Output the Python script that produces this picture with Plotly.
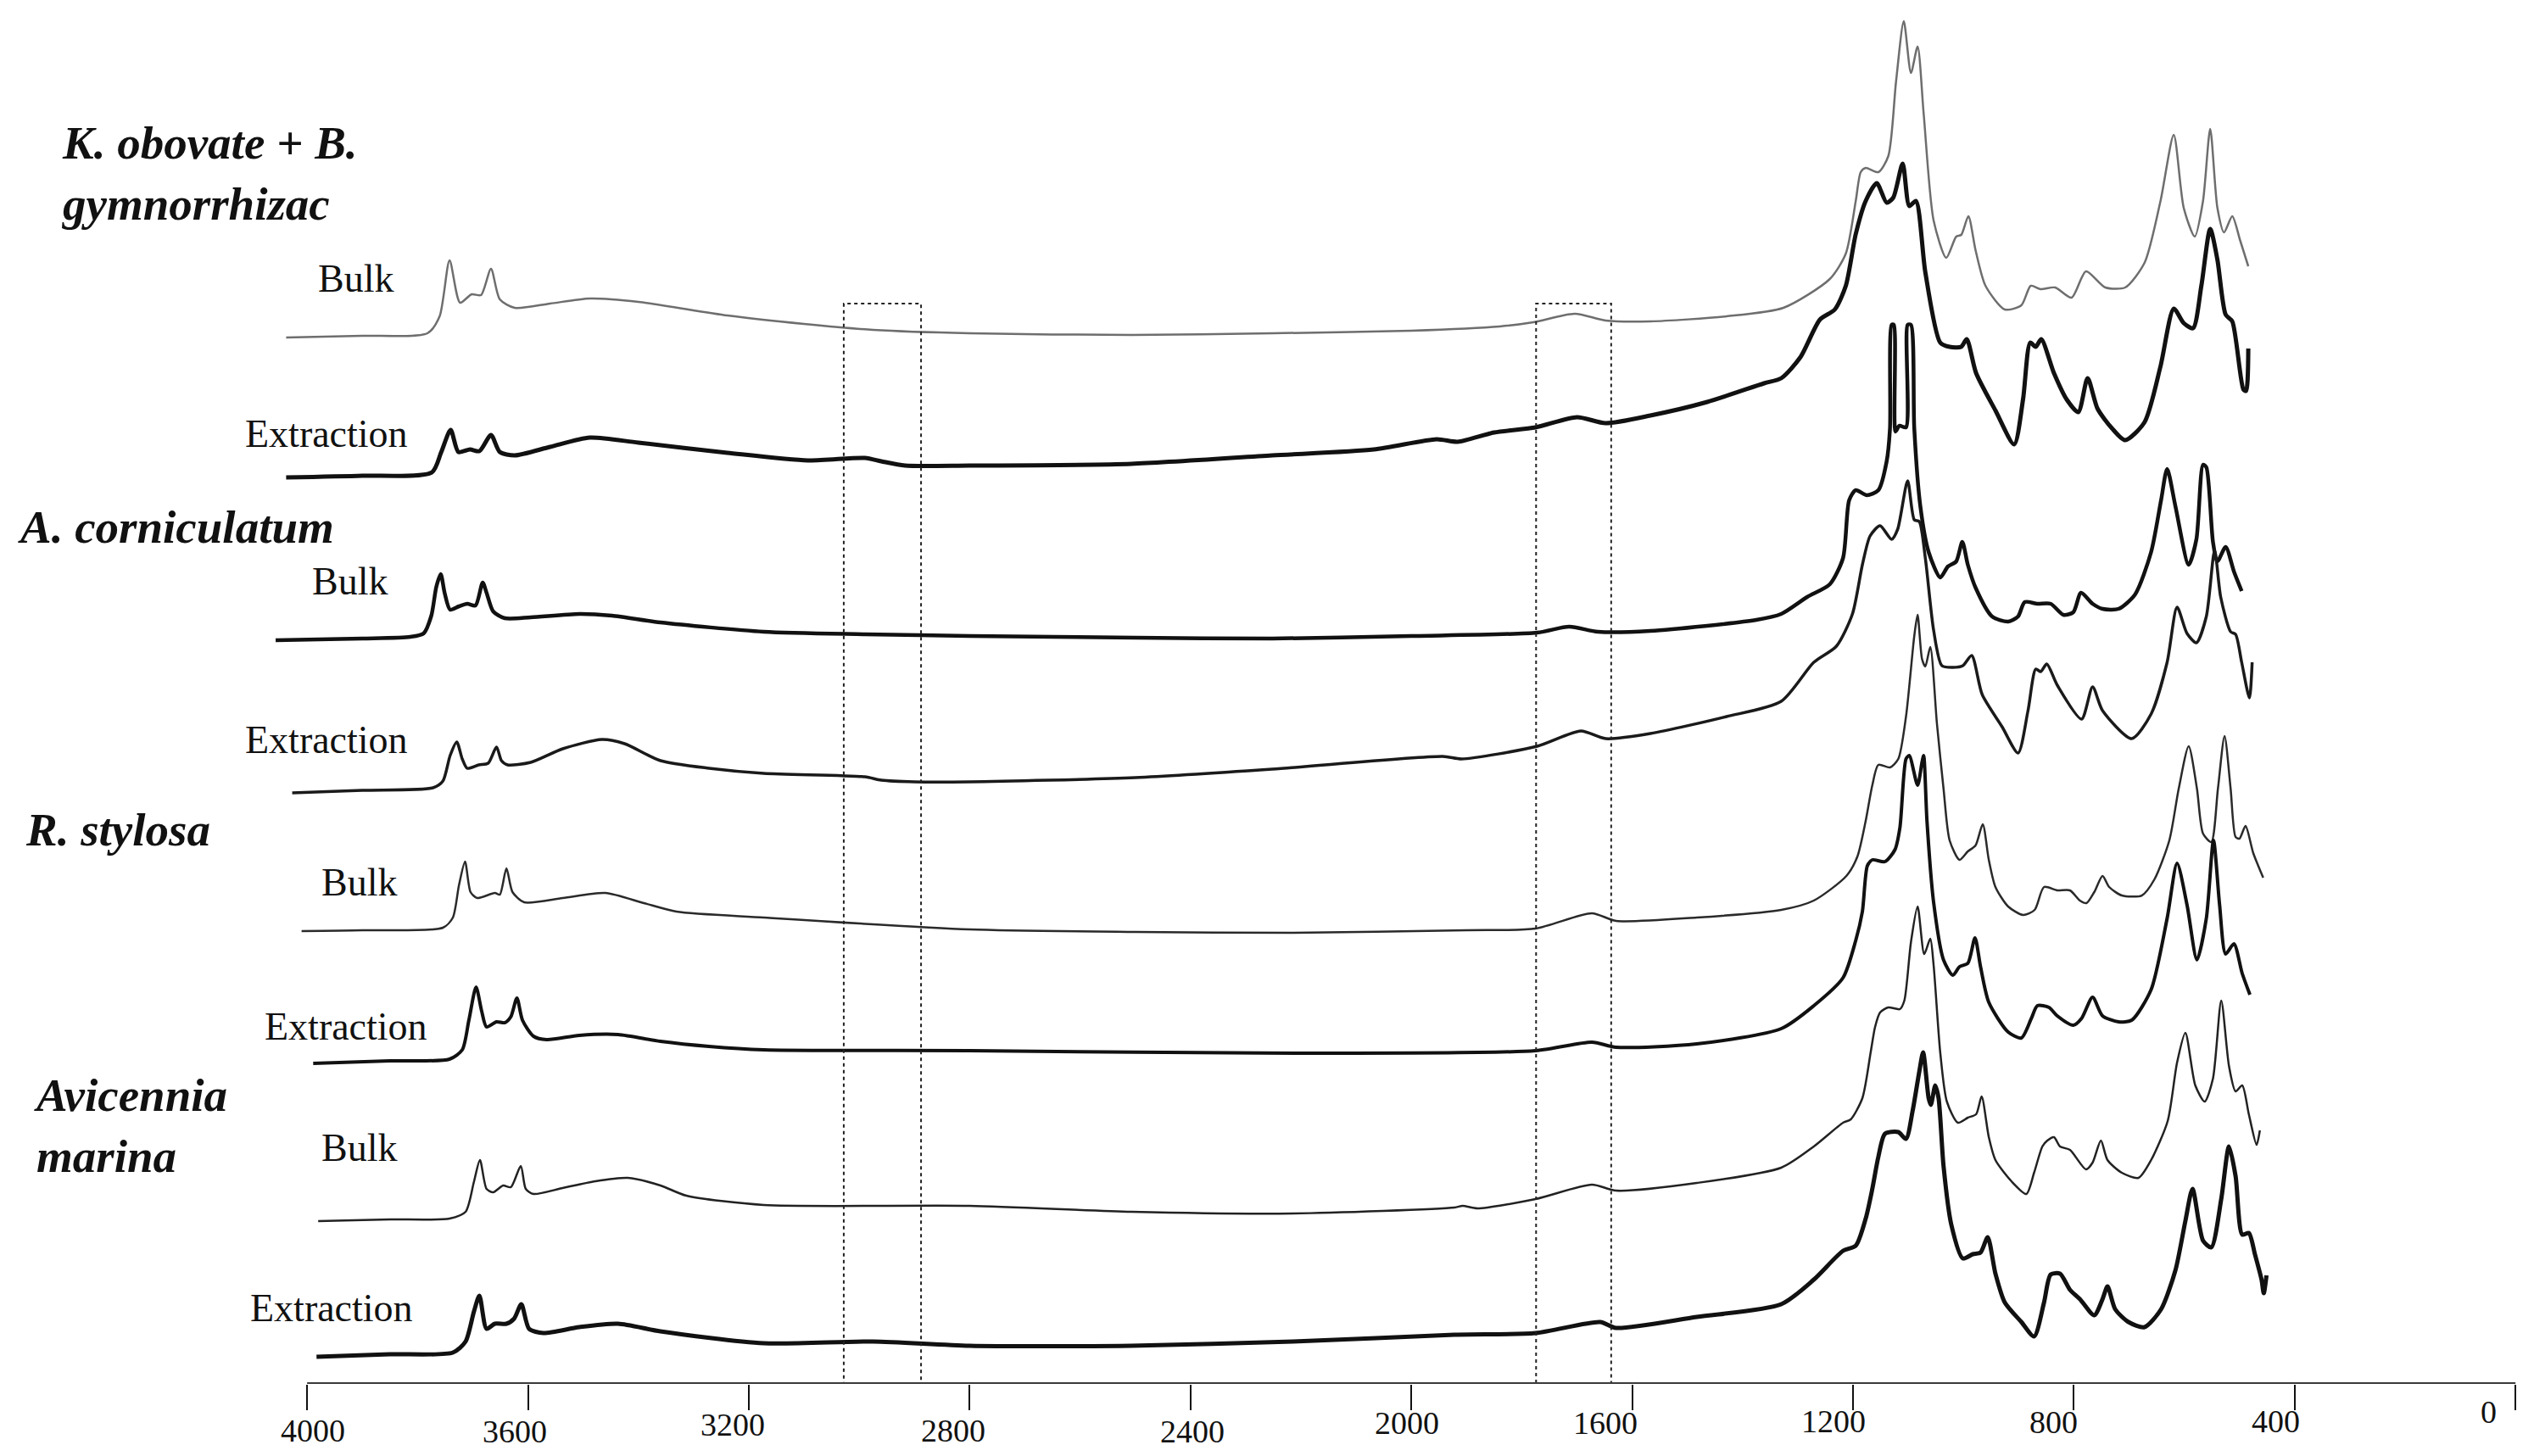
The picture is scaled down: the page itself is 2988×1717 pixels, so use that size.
import plotly.graph_objects as go

# stacked FTIR spectra, wavenumber (cm-1) vs offset intensity (a.u.)
k_bulk_wn = [4038, 3900, 3782, 3760, 3742, 3723, 3702, 3685, 3667, 3651, 3624, 3560, 3488, 3400, 3239, 3100,
             2975, 2800, 2507, 2252, 2000, 1840, 1779, 1704, 1648, 1567, 1429, 1326, 1242, 1213, 1195, 1186,
             1177, 1154, 1136, 1122, 1108, 1095, 1083, 1072, 1054, 1031, 1013, 1004, 991, 978, 960, 925, 895,
             878, 860, 834, 804, 778, 743, 707, 672, 643, 619, 601, 581, 566, 553, 540, 528, 513, 499, 484]
k_bulk_int = [1234, 1236, 1239, 1259, 1325, 1275, 1285, 1284, 1315, 1279, 1269, 1274, 1280, 1276, 1260, 1250,
              1243, 1239, 1237, 1239, 1242, 1247, 1252, 1262, 1254, 1253, 1259, 1269, 1303, 1333, 1395, 1429,
              1434, 1429, 1448, 1536, 1607, 1546, 1577, 1498, 1372, 1328, 1353, 1355, 1377, 1337, 1295, 1267, 1272,
              1295, 1291, 1293, 1281, 1312, 1293, 1293, 1322, 1395, 1473, 1387, 1353, 1395, 1480, 1387, 1358, 1377,
              1349, 1318]

k_ext_wn = [4038, 3900, 3774, 3757, 3740, 3726, 3705, 3688, 3667, 3651, 3624, 3560, 3488, 3400, 3239, 3093,
            2990, 2960, 2917, 2800, 2507, 2252, 2068, 1954, 1916, 1850, 1775, 1700, 1648, 1567, 1464, 1361,
            1330, 1295, 1260, 1233, 1213, 1195, 1177, 1157, 1139, 1127, 1110, 1098, 1086, 1069, 1042, 1025,
            1004, 994, 977, 942, 908, 892, 879, 869, 859, 836, 813, 792, 775, 757, 731, 707, 672, 643, 619,
            601, 584, 569, 553, 540, 525, 513, 493, 488, 484]
k_ext_int = [1069, 1071, 1075, 1099, 1125, 1099, 1102, 1100, 1119, 1099, 1095, 1105, 1116, 1110, 1098, 1089,
             1092, 1088, 1083, 1083, 1085, 1095, 1102, 1114, 1111, 1122, 1128, 1140, 1133, 1142, 1158, 1180,
             1186, 1211, 1255, 1267, 1295, 1356, 1395, 1416, 1393, 1399, 1439, 1389, 1395, 1311, 1228, 1223,
             1223, 1232, 1192, 1148, 1108, 1161, 1228, 1223, 1232, 1192, 1161, 1146, 1186, 1150, 1127, 1113,
             1134, 1200, 1268, 1251, 1245, 1295, 1362, 1326, 1261, 1253, 1173, 1171, 1221]

a_bulk_wn = [4057, 3900, 3813, 3789, 3775, 3766, 3758, 3751, 3741, 3725, 3710, 3695, 3682, 3675, 3663, 3642,
             3595, 3507, 3448, 3360, 3173, 2990, 2800, 2500, 2252, 2000, 1772, 1714, 1662, 1567, 1375, 1330,
             1283, 1242, 1218, 1207, 1195, 1175, 1154, 1139, 1133, 1130, 1126, 1123, 1116, 1104, 1101, 1095,
             1089, 1078, 1063, 1042, 1028, 1013, 1002, 992, 978, 948, 919, 901, 889, 866, 842, 819, 801, 787,
             766, 748, 719, 689, 660, 642, 631, 616, 592, 578, 566, 560, 548, 540, 525, 510, 496]
a_bulk_int = [877, 879, 881, 885, 906, 940, 955, 933, 913, 917, 920, 918, 945, 933, 911, 903,
              904, 908, 906, 898, 887, 884, 882, 880, 879, 882, 886, 893, 887, 888, 901, 908,
              928, 943, 974, 1042, 1054, 1048, 1054, 1088, 1127, 1249, 1249, 1123, 1130, 1128, 1249, 1249,
              1127, 1035, 981, 951, 964, 970, 993, 966, 939, 905, 899, 905, 922, 920, 920, 907, 910, 933,
              920, 914, 914, 931, 981, 1042, 1079, 1035, 966, 996, 1084, 1081, 993, 970, 987, 958, 935]

a_ext_wn = [4027, 3900, 3772, 3754, 3741, 3729, 3719, 3710, 3689, 3672, 3657, 3648, 3637, 3595, 3537, 3466,
            3425, 3360, 3272, 3173, 2990, 2960, 2900, 2800, 2500, 2252, 1943, 1909, 1772, 1693, 1648, 1567,
            1429, 1330, 1271, 1230, 1201, 1183, 1169, 1151, 1130, 1119, 1101, 1089, 1080, 1069, 1054, 1039,
            1019, 1001, 985, 966, 930, 901, 883, 869, 860, 849, 830, 786, 766, 748, 695, 660, 631, 613, 595,
            578, 560, 545, 534, 516, 507, 496, 482, 477]
a_ext_int = [697, 700, 703, 711, 741, 757, 737, 726, 730, 732, 751, 735, 730, 733, 749, 760,
             755, 735, 726, 720, 716, 712, 710, 710, 715, 725, 740, 737, 752, 770, 761, 767,
             787, 805, 851, 870, 908, 966, 1000, 1012, 996, 1008, 1065, 1019, 1017, 974, 889, 847,
             845, 847, 859, 813, 775, 744, 794, 843, 840, 849, 824, 784, 822, 794, 761, 790, 851, 916, 885,
             874, 905, 983, 928, 887, 884, 851, 809, 851]

r_bulk_wn = [4010, 3900, 3754, 3736, 3725, 3714, 3704, 3692, 3660, 3651, 3639, 3628, 3607, 3537, 3460, 3390,
             3331, 3173, 2800, 2500, 2214, 1900, 1775, 1673, 1629, 1483, 1330, 1271, 1212, 1192, 1177, 1165,
             1154, 1133, 1118, 1104, 1089, 1083, 1075, 1069, 1060, 1048, 1036, 1025, 1007, 992, 978, 965, 954,
             942, 919, 892, 871, 854, 830, 807, 789, 777, 763, 748, 736, 713, 677, 654, 627, 610, 592, 577,
             566, 551, 539, 527, 516, 507, 500, 489, 475, 457]
r_bulk_int = [534, 535, 538, 550, 588, 616, 580, 573, 579, 577, 608, 580, 568, 573, 579, 567,
              557, 550, 536, 533, 532, 535, 537, 555, 546, 550, 559, 570, 599, 622, 664, 706,
              730, 727, 737, 787, 882, 907, 855, 846, 869, 779, 702, 641, 618, 628, 635, 660, 618,
              586, 563, 553, 559, 586, 582, 582, 570, 567, 580, 599, 586, 576, 576, 595, 641, 702, 752, 702,
              649, 639, 702, 764, 702, 645, 643, 658, 626, 597]

r_ext_wn = [3989, 3850, 3742, 3719, 3707, 3694, 3684, 3675, 3657, 3642, 3631, 3620, 3610, 3590, 3566, 3507,
            3437, 3360, 3272, 3173, 2800, 2214, 1775, 1673, 1629, 1483, 1330, 1271, 1218, 1195, 1183, 1174,
            1165, 1142, 1124, 1115, 1104, 1098, 1083, 1075, 1072, 1066, 1054, 1036, 1019, 1007, 992, 979,
            969, 954, 919, 895, 877, 866, 845, 830, 801, 786, 766, 748, 719, 695, 660, 631, 613, 595, 577,
            560, 547, 536, 525, 510, 495, 481]
r_ext_int = [378, 381, 383, 394, 429, 468, 440, 421, 427, 426, 433, 455, 429, 410, 406, 411,
             412, 404, 398, 394, 393, 390, 393, 403, 397, 401, 419, 446, 479, 523, 557, 611,
             618, 616, 630, 656, 737, 741, 706, 733, 741, 664, 568, 500, 482, 492, 496, 526,
             492, 450, 415, 408, 431, 446, 444, 434, 423, 431, 456, 434, 427, 429, 465, 549, 614, 565, 500,
             549, 641, 565, 507, 519, 484, 459]

av_bulk_wn = [3980, 3850, 3742, 3713, 3698, 3687, 3675, 3663, 3645, 3631, 3613, 3604, 3590, 3537, 3478, 3419,
              3360, 3313, 3173, 2800, 2507, 2214, 1922, 1907, 1880, 1775, 1673, 1629, 1483, 1330, 1271, 1218,
              1204, 1183, 1168, 1160, 1151, 1136, 1115, 1107, 1095, 1083, 1071, 1060, 1054, 1042, 1030, 1010,
              992, 977, 967, 954, 942, 913, 886, 872, 857, 848, 836, 825, 807, 778, 766, 751, 739, 713, 683,
              660, 630, 613, 598, 580, 563, 548, 533, 519, 507, 495, 483, 469, 463]
av_bulk_int = [192, 194, 195, 203, 238, 264, 230, 226, 234, 232, 257, 230, 224, 231, 239, 243,
               234, 222, 211, 210, 203, 201, 208, 210, 207, 218, 235, 228, 237, 255, 280, 308,
               312, 337, 391, 421, 438, 444, 442, 452, 521, 563, 507, 525, 494, 391, 333, 308,
               314, 318, 339, 291, 264, 239, 224, 249, 280, 287, 291, 280, 276, 253, 261, 287, 264, 249, 243,
               264, 310, 379, 414, 352, 333, 360, 452, 375, 345, 352, 318, 282, 299]

av_ext_wn = [3983, 3850, 3736, 3713, 3698, 3688, 3675, 3660, 3639, 3625, 3612, 3598, 3572, 3507, 3437, 3360,
             3173, 2975, 2800, 2507, 2214, 1922, 1775, 1658, 1629, 1483, 1330, 1271, 1218, 1195, 1177, 1165,
             1154, 1142, 1118, 1104, 1092, 1080, 1073, 1063, 1059, 1051, 1045, 1036, 1022, 1001, 983, 969,
             956, 942, 925, 895, 872, 854, 842, 825, 807, 789, 763, 748, 739, 725, 701, 672, 642, 616, 598,
             585, 566, 551, 533, 519, 507, 495, 483, 472, 460, 456, 451]
av_ext_int = [32, 35, 37, 50, 85, 104, 65, 71, 71, 77, 94, 65, 60, 67, 71, 62,
              48, 50, 45, 45, 50, 58, 60, 73, 66, 79, 94, 123, 157, 163, 195, 230,
              268, 295, 297, 289, 322, 368, 391, 337, 329, 352, 337, 257, 188, 148, 153, 155,
              173, 130, 96, 73, 56, 96, 129, 130, 111, 100, 81, 100, 115, 88, 73, 67, 88, 134, 192,
              230, 169, 161, 218, 280, 245, 176, 178, 153, 123, 107, 128]

tick_vals = [4000, 3600, 3200, 2800, 2400, 2000, 1600, 1200, 800, 400, 0]
# the printed tick labels sit slightly off their ticks in the original
tick_label_x = [3989, 3624, 3229, 2830, 2396, 2008, 1648, 1235, 836, 435, 49]
tick_label_y = [-0.0339, -0.0345, -0.0296, -0.0339, -0.0345, -0.0283, -0.0283, -0.0271, -0.0277, -0.0271, -0.0203]

# highlighted regions (cm-1)
boxes = [(3028, 2888), (1774, 1638)]

species = ["<b><i>K. obovate + B.<br>gymnorrhizac</i></b>", "<b><i>A. corniculatum</i></b>",
           "<b><i>R. stylosa</i></b>", "<b><i>Avicennia<br>marina</i></b>"]

spectra = [
    ("Bulk", k_bulk_wn, k_bulk_int, "#6e6e6e", 2.5),
    ("Extraction", k_ext_wn, k_ext_int, "#111111", 5),
    ("Bulk", a_bulk_wn, a_bulk_int, "#111111", 4.5),
    ("Extraction", a_ext_wn, a_ext_int, "#1a1a1a", 3.5),
    ("Bulk", r_bulk_wn, r_bulk_int, "#2a2a2a", 2.5),
    ("Extraction", r_ext_wn, r_ext_int, "#111111", 4),
    ("Bulk", av_bulk_wn, av_bulk_int, "#222222", 2.5),
    ("Extraction", av_ext_wn, av_ext_int, "#111111", 5),
]

fig = go.Figure()
for name, wn, val, color, lw in spectra:
    fig.add_trace(go.Scatter(x=wn, y=val, mode="lines", name=name,
                             line=dict(color=color, width=lw, shape="spline", smoothing=0.7),
                             showlegend=False, hoverinfo="skip"))

serif = "Liberation Serif, Times New Roman, serif"

# sample labels next to each trace
sample_pos = [(3912, 1304), (3965, 1121), (3923, 947), (3965, 760),
              (3906, 592), (3929, 422), (3906, 279), (3955, 90)]
for (name, *_), (x, y) in zip(spectra, sample_pos):
    fig.add_annotation(x=x, y=y, text=name, showarrow=False, xanchor="center", yanchor="middle",
                       font=dict(family=serif, size=46, color="#111"))

species_pos = [(4449, 1428), (4527, 1011), (4514, 654), (4498, 305)]
for text, (x, y) in zip(species, species_pos):
    fig.add_annotation(x=x, y=y, text=text, showarrow=False, xanchor="left", yanchor="middle",
                       align="left", font=dict(family=serif, size=55, color="#111"))

for val, x, y in zip(tick_vals, tick_label_x, tick_label_y):
    fig.add_annotation(x=x, y=y, xref="x", yref="paper", text=str(val), showarrow=False,
                       xanchor="center", yanchor="middle",
                       font=dict(family=serif, size=38, color="#111"))

for x0, x1 in boxes:
    fig.add_shape(type="rect", x0=x0, x1=x1, y0=0, y1=1274,
                  line=dict(color="#222", width=2, dash="4px,4px"))

# axis baseline
fig.add_shape(type="line", x0=4000, x1=0, y0=0, y1=0, line=dict(color="#3a3a3a", width=4))

# page body adds an 8px offset, so the figure is 8px smaller and ranges shifted to match
fig.update_layout(
    width=2980, height=1709,
    template="none",
    plot_bgcolor="white", paper_bgcolor="white",
    margin=dict(l=0, r=0, t=0, b=85),
    xaxis=dict(range=[4544, -33.5], tickvals=tick_vals, showticklabels=False,
               ticks="outside", ticklen=30, tickwidth=2, tickcolor="#111",
               showgrid=False, zeroline=False, showline=False, automargin=False),
    yaxis=dict(range=[0, 1624], visible=False, showgrid=False, zeroline=False, automargin=False),
)

fig.write_html("out.html", config={"displayModeBar": False})
